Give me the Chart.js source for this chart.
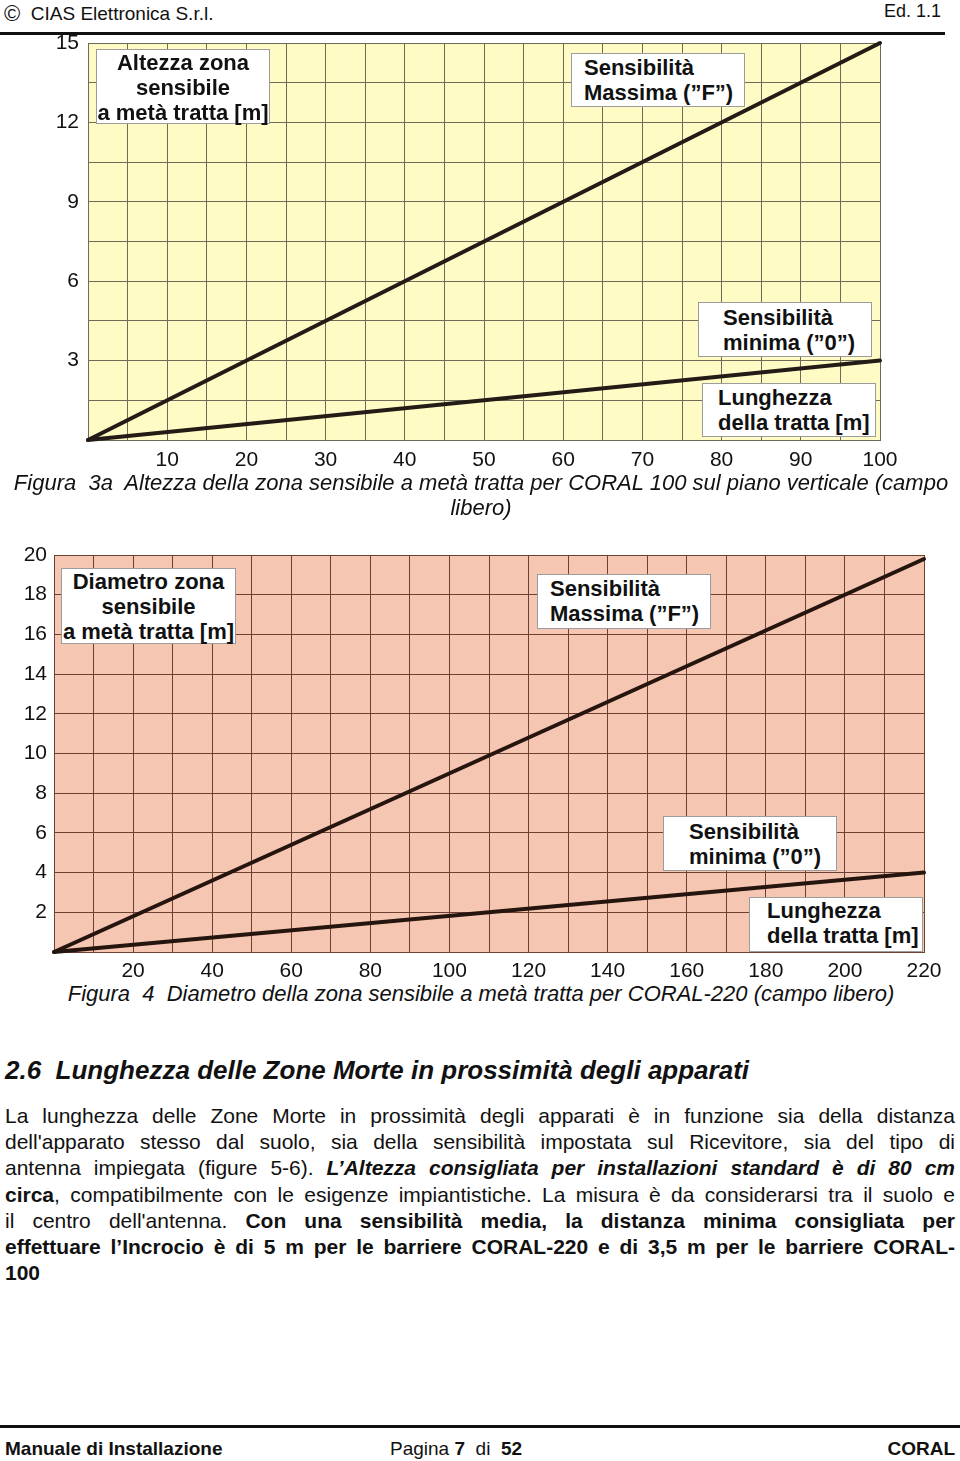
<!DOCTYPE html>
<html lang="it">
<head>
<meta charset="utf-8">
<title>CORAL - Pagina 7</title>
<script src="https://cdn.jsdelivr.net/npm/chart.js@4.4.1/dist/chart.umd.min.js"></script>
<style>
  html, body { margin: 0; padding: 0; background: #fff; }
  body {
    position: relative; width: 960px; height: 1461px; overflow: hidden;
    font-family: "Liberation Sans", Arial, Helvetica, sans-serif; color: #111;
  }
  .abs { position: absolute; white-space: nowrap; }
  .rule { position: absolute; background: #111; }
  canvas { position: absolute; left: 0; }
  .note {
    position: absolute; box-sizing: border-box; background: #fff;
    border: 1px solid #9c9c9c; font-weight: bold; font-size: 22px;
    line-height: 25px; white-space: nowrap; color: #111;
  }
  .note.center { text-align: center; }
  .caption { font-style: italic; font-size: 22px; line-height: 25px; text-align: center; }
  .para div { height: 26.2px; line-height: 26px; font-size: 21px; width: 950px;
    text-align: justify; text-align-last: justify; white-space: nowrap; }
  .para div.last { text-align: left; text-align-last: left; }
  .foot { font-family: "Liberation Sans Narrow", "Arial Narrow", "Liberation Sans", sans-serif; font-size: 19px; }
</style>
</head>
<body>

<div class="abs" style="left:4px; top:0px; font-size:19px;"><span style="font-size:22px; position:relative; top:1px;">©</span>&nbsp;&nbsp;CIAS Elettronica S.r.l.</div>
<div class="abs" style="right:19px; top:1px; font-size:18px;">Ed. 1.1</div>
<div class="rule" style="left:0; top:32px; width:945px; height:3px;"></div>

<canvas id="fig3a" width="960" height="460" style="top:20px;"></canvas>
<div class="note center" style="left:96px; top:49px; width:174px; height:75px;">Altezza zona<br>sensibile<br>a metà tratta [m]</div>
<div class="note" style="left:571px; top:53px; width:174px; height:54px; padding:1px 0 0 12px;">Sensibilità<br>Massima (”F”)</div>
<div class="note" style="left:698px; top:302px; width:174px; height:55px; padding:2px 0 0 24px;">Sensibilità<br>minima (”0”)</div>
<div class="note" style="left:702px; top:383px; width:174px; height:54px; padding:1px 0 0 15px;">Lunghezza<br>della tratta [m]</div>

<div class="abs caption" style="left:0; top:470px; width:962px;">Figura&nbsp; 3a&nbsp; Altezza della zona sensibile a metà tratta per CORAL 100 sul piano verticale (campo<br>libero)</div>

<canvas id="fig4" width="960" height="440" style="top:540px;"></canvas>
<div class="note center" style="left:61px; top:568px; width:175px; height:76px;">Diametro zona<br>sensibile<br>a metà tratta [m]</div>
<div class="note" style="left:537px; top:574px; width:174px; height:55px; padding:1px 0 0 12px;">Sensibilità<br>Massima (”F”)</div>
<div class="note" style="left:663px; top:816px; width:174px; height:55px; padding:2px 0 0 25px;">Sensibilità<br>minima (”0”)</div>
<div class="note" style="left:749px; top:897px; width:174px; height:55px; padding:0 0 0 17px;">Lunghezza<br>della tratta [m]</div>

<div class="abs caption" style="left:0; top:981px; width:962px;">Figura&nbsp; 4&nbsp; Diametro della zona sensibile a metà tratta per CORAL-220 (campo libero)</div>

<div class="abs" style="left:5px; top:1054px; font-size:26px; font-weight:bold; font-style:italic; line-height:32px;">2.6&nbsp; Lunghezza delle Zone Morte in prossimità degli apparati</div>

<div class="abs para" style="left:5px; top:1103px;">
  <div>La lunghezza delle Zone Morte in prossimità degli apparati è in funzione sia della distanza</div>
  <div>dell'apparato stesso dal suolo, sia della sensibilità impostata sul Ricevitore, sia del tipo di</div>
  <div>antenna impiegata (figure 5-6). <b><i>L’Altezza consigliata per installazioni standard è di 80 cm</i></b></div>
  <div><b>circa</b>, compatibilmente con le esigenze impiantistiche. La misura è da considerarsi tra il suolo e</div>
  <div>il centro dell'antenna. <b>Con una sensibilità media, la distanza minima consigliata per</b></div>
  <div><b>effettuare l’Incrocio è di 5 m per le barriere CORAL-220 e di 3,5 m per le barriere CORAL-</b></div>
  <div class="last"><b>100</b></div>
</div>

<div class="rule" style="left:0; top:1425px; width:960px; height:3px;"></div>
<div class="abs foot" style="left:5px; top:1438px; font-weight:bold;">Manuale di Installazione</div>
<div class="abs foot" style="left:390px; top:1438px;">Pagina <b>7</b>&nbsp; di&nbsp; <b>52</b></div>
<div class="abs foot" style="right:5px; top:1438px; font-weight:bold;">CORAL</div>

<script>
// Figura 3a - CORAL 100, altezza zona sensibile [m] vs lunghezza tratta [m]
const fig3aDistance = [0, 100];
const fig3aMaxSens = [0, 15];
const fig3aMinSens = [0, 3];
const fig3aXLabels = [10, 20, 30, 40, 50, 60, 70, 80, 90, 100];
const fig3aYLabels = [3, 6, 9, 12, 15];

// Figura 4 - CORAL-220, diametro zona sensibile [m] vs lunghezza tratta [m]
const fig4Distance = [0, 220];
const fig4MaxSens = [0, 19.8];
const fig4MinSens = [0, 4];
const fig4XLabels = [20, 40, 60, 80, 100, 120, 140, 160, 180, 200, 220];
const fig4YLabels = [2, 4, 6, 8, 10, 12, 14, 16, 18, 20];

const tickFont = { family: '"Liberation Sans", Arial, sans-serif', size: 21 };

// fills the plot area with the paper colour
const plotBackground = {
    id: 'plotBackground',
    beforeDraw(chart, args, opts) {
        const { ctx, chartArea } = chart;
        ctx.save();
        ctx.fillStyle = opts.color;
        ctx.fillRect(chartArea.left, chartArea.top, chartArea.width, chartArea.height);
        ctx.restore();
    }
};

function toPoints(xs, ys) {
    return xs.map((x, i) => ({ x: x, y: ys[i] }));
}

class SensitivityLineChart {
    constructor(ctx, cfg) {
        this.ctx = ctx;
        this.chart = new Chart(this.ctx, {
            type: 'line',
            data: {
                datasets: [
                    this.lineDataset('Sensibilità Massima ("F")', toPoints(cfg.distance, cfg.maxSens), cfg.lineColor),
                    this.lineDataset('Sensibilità minima ("0")', toPoints(cfg.distance, cfg.minSens), cfg.lineColor)
                ]
            },
            options: this.chartOptions(cfg),
            plugins: [plotBackground]
        });
    }

    lineDataset(label, data, color) {
        return {
            label: label,
            data: data,
            borderColor: color,
            borderWidth: 4,
            borderCapStyle: 'round',
            pointRadius: 0,
            tension: 0,
            clip: false
        };
    }

    chartOptions(cfg) {
        return {
            responsive: false,
            animation: false,
            layout: { padding: cfg.padding },
            plugins: {
                legend: { display: false },
                tooltip: { enabled: false },
                plotBackground: { color: cfg.background }
            },
            scales: {
                x: {
                    type: 'linear',
                    min: cfg.xMin, max: cfg.xMax,
                    // fixed axis box, the layout padding decides the plot area
                    afterFit: (scale) => {
                        scale.height = cfg.xAxisHeight;
                        scale.paddingLeft = 0;
                        scale.paddingRight = 0;
                    },
                    grid: { color: cfg.gridColor, lineWidth: 1, drawTicks: false },
                    border: { display: true, color: cfg.gridColor },
                    ticks: {
                        stepSize: cfg.xStep,
                        padding: cfg.xPad,
                        maxRotation: 0,
                        autoSkip: false,
                        color: '#111',
                        font: tickFont,
                        callback: (v) => cfg.xLabels.includes(v) ? String(v) : ''
                    }
                },
                y: {
                    type: 'linear',
                    min: cfg.yMin, max: cfg.yMax,
                    afterFit: (scale) => {
                        scale.width = cfg.yAxisWidth;
                        scale.paddingTop = 0;
                        scale.paddingBottom = 0;
                    },
                    grid: { color: cfg.gridColor, lineWidth: 1, drawTicks: false },
                    border: { display: true, color: cfg.gridColor },
                    ticks: {
                        stepSize: cfg.yStep,
                        padding: cfg.yPad,
                        autoSkip: false,
                        color: '#111',
                        font: tickFont,
                        callback: (v) => cfg.yLabels.includes(v) ? String(v) : ''
                    }
                }
            }
        };
    }
}

new SensitivityLineChart(document.getElementById('fig3a'), {
    distance: fig3aDistance, maxSens: fig3aMaxSens, minSens: fig3aMinSens,
    xLabels: fig3aXLabels, yLabels: fig3aYLabels,
    xMin: 0, xMax: 100, xStep: 5, yMin: 0, yMax: 15, yStep: 1.5,
    padding: { top: 23, right: 80, bottom: 0, left: 0 },
    xAxisHeight: 40, yAxisWidth: 88, xPad: 8, yPad: 9,
    background: '#fffbc4', gridColor: '#6e6b58', lineColor: '#231c16'
});

new SensitivityLineChart(document.getElementById('fig4'), {
    distance: fig4Distance, maxSens: fig4MaxSens, minSens: fig4MinSens,
    xLabels: fig4XLabels, yLabels: fig4YLabels,
    xMin: 0, xMax: 220, xStep: 10, yMin: 0, yMax: 20, yStep: 2,
    padding: { top: 15, right: 36, bottom: 0, left: 0 },
    xAxisHeight: 28, yAxisWidth: 54, xPad: 7, yPad: 7,
    background: '#f5c6b1', gridColor: '#6d4031', lineColor: '#26140e'
});
</script>
</body>
</html>
